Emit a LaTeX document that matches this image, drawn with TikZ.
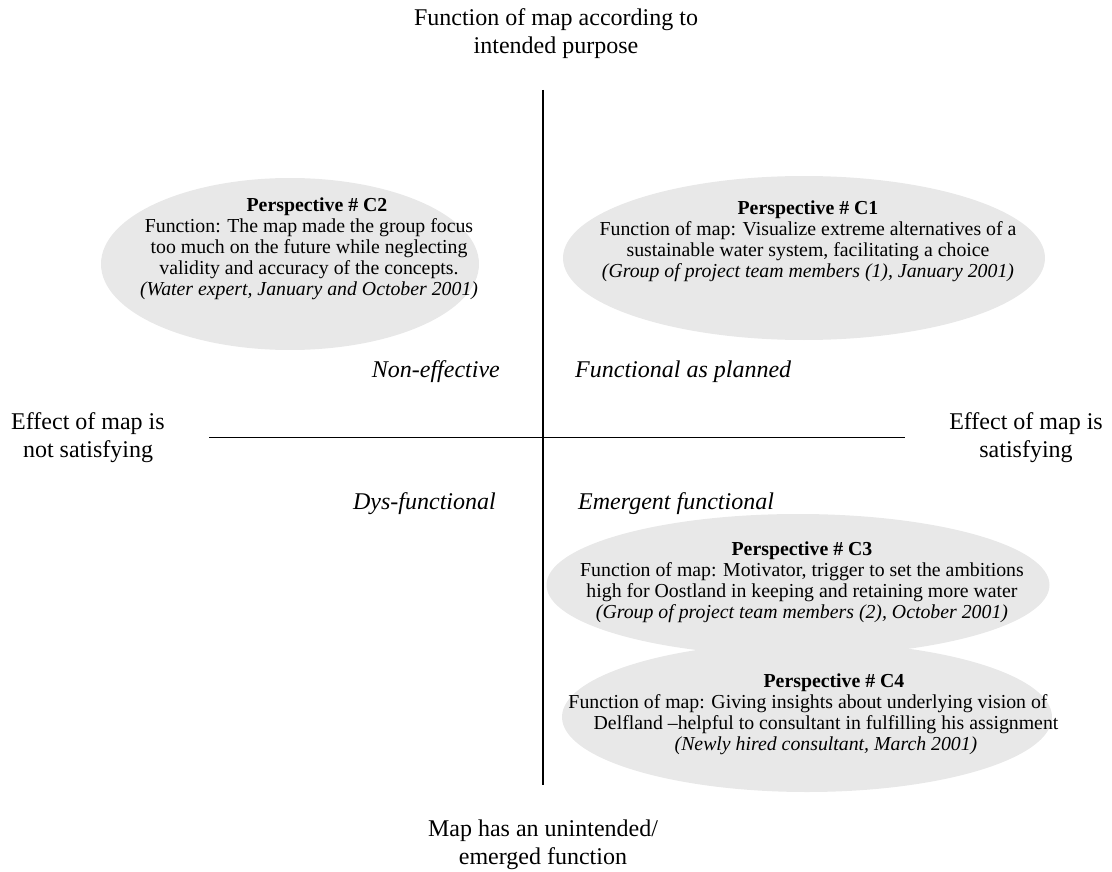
\documentclass[tikz,border=0pt]{standalone}
\usepackage{fontspec}
\setmainfont{Liberation Serif}
\usetikzlibrary{shapes.geometric}
\definecolor{bubblegray}{RGB}{232,232,232}
\begin{document}
\begin{tikzpicture}[x=1pt,y=-1pt,
  bubble/.style={shape=ellipse, fill=bubblegray, draw=none, inner sep=0},
  axis/.style={line width=1.3pt, black},
  outer/.style={font=\fontsize{24}{28}\selectfont, align=center, anchor=base, inner sep=0},
  quad/.style={font=\fontsize{24}{28}\selectfont\itshape, inner sep=0},
  body/.style={font=\fontsize{19.8}{20.8}\selectfont, align=center, anchor=base, inner sep=0}]
\useasboundingbox (0,0) rectangle (1112,872);

% perspective bubbles
\node[bubble, minimum width=378pt, minimum height=172pt] (c2) at (290,264) {};
\node[bubble, minimum width=482pt, minimum height=164pt] (c1) at (804,258) {};
\node[bubble, minimum width=503pt, minimum height=142pt] (c3) at (798,585) {};
\node[bubble, minimum width=490pt, minimum height=150pt] (c4) at (807,717) {};

% axes
\coordinate (top) at (543,90);
\coordinate (bottom) at (543,785);
\coordinate (left) at (209,437.5);
\coordinate (right) at (905,437.5);
\draw[axis] (top) -- (bottom);
\draw[axis] (left) -- (right);

% axis captions (anchored at the baseline of their last line)
\node[outer] (purpose) at (556,54) {Function of map according to\\intended purpose};
\node[outer] (notsat) at (88,457) {Effect of map is\\not satisfying};
\node[outer] (sat) at (1026,457) {Effect of map is\\satisfying};
\node[outer] (emerged) at (543,864) {Map has an unintended/\\emerged function};

% quadrant names
\node[quad, anchor=base east] (noneff) at (500,377) {Non-effective};
\node[quad, anchor=base west] (planned) at (575,377) {Functional as planned};
\node[quad, anchor=base east] (dys) at (496,509) {Dys-functional};
\node[quad, anchor=base west] (emergent) at (578,509) {Emergent functional};

% bubble texts
\node[body] (c2text) at (309,295) {\hspace*{16pt}\textbf{Perspective \# C2}\\
  Function: The map made the group focus\\
  too much on the future while neglecting\\
  validity and accuracy of the concepts.\\
  \textit{(Water expert, January and October 2001)}};
\node[body] (c1text) at (808,277) {\textbf{Perspective \# C1}\\
  Function of map: Visualize extreme alternatives of a\\
  sustainable water system, facilitating a choice\\
  \textit{(Group of project team members (1), January 2001)}};
\node[body] (c3text) at (802,618) {\textbf{Perspective \# C3}\\
  Function of map: Motivator, trigger to set the ambitions\\
  high for Oostland in keeping and retaining more water\\
  \textit{(Group of project team members (2), October 2001)}};
\node[body] (c4text) at (826,750) {\hspace*{16pt}\textbf{Perspective \# C4}\\
  Function of map: Giving insights about underlying vision of\rule{36pt}{0pt}\\
  Delfland –helpful to consultant in fulfilling his assignment\\
  \textit{(Newly hired consultant, March 2001)}};
\end{tikzpicture}
\end{document}
